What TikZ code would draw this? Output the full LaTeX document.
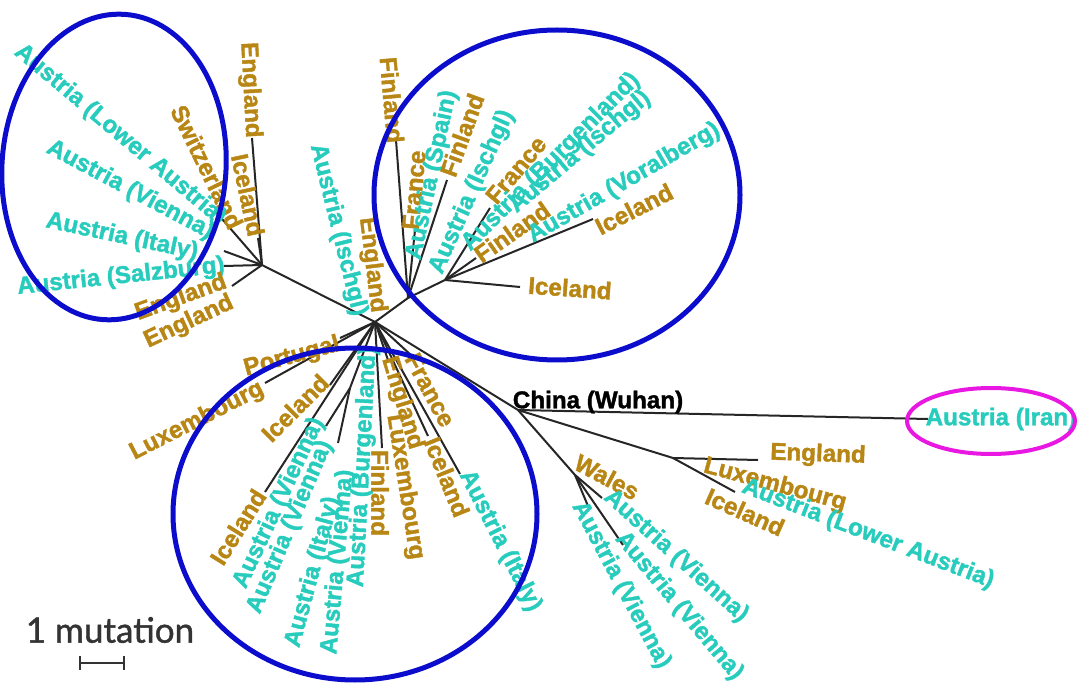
\documentclass[tikz,border=0pt]{standalone}
\usepackage{fontspec}
\setmainfont{Liberation Sans}[FakeBold=1.6]
\newfontfamily\barfont{Lato}[FakeBold=1.2]
\usetikzlibrary{calc}
\definecolor{austria}{RGB}{40,204,188}
\definecolor{other}{RGB}{184,134,20}
\definecolor{ringblue}{RGB}{12,12,204}
\definecolor{ringpink}{RGB}{232,24,226}

\begin{document}
\begin{tikzpicture}[x=.5pt,y=-.5pt,
 br/.style={draw=black!85,line width=1pt},
 lab/.style={font=\fontsize{12.1}{14}\bfseries,inner sep=0pt},
 aut/.style={lab,text=austria},oth/.style={lab,text=other},
 ring/.style={draw=ringblue,line width=2.5pt}]
\useasboundingbox (0,0) rectangle (1077,684);
% inner nodes
\coordinate (c) at (375,322); \coordinate (l) at (262,265); \coordinate (s) at (408,298);
\coordinate (r) at (445,280); \coordinate (w) at (518,410); \coordinate (e) at (673,458);
\coordinate (v) at (575,475); \coordinate (b) at (350,388);
% tips, upper left
\coordinate (tl1) at (252,138); \coordinate (tl2) at (258,238); \coordinate (tl3) at (216,212);
\coordinate (tl4) at (224,251); \coordinate (tl5) at (224,266); \coordinate (tl6) at (232,286);
% tips, upper right
\coordinate (tr1) at (396,140); \coordinate (tr2) at (415,230); \coordinate (tr3) at (447,180);
\coordinate (tr4) at (490,208); \coordinate (tr5) at (476,258); \coordinate (tr6) at (593,219);
\coordinate (tr7) at (520,287);
% tips, lower
\coordinate (tb1) at (340,338); \coordinate (tb2) at (265,383); \coordinate (tb3) at (330,385);
\coordinate (tb4) at (265,492); \coordinate (tb5) at (382,448); \coordinate (tb6) at (388,360);
\coordinate (tb7) at (412,356); \coordinate (tb8) at (428,436); \coordinate (tb9) at (460,474);
\coordinate (tb10) at (338,443); \coordinate (tb11) at (326,426);
% tips, right
\coordinate (tw1) at (928,419); \coordinate (tw2) at (758,460); \coordinate (tw3) at (735,492);
\coordinate (tw4) at (602,498); \coordinate (tw5) at (623,545); \coordinate (tw6) at (588,506);
% branches
\draw[br] (c)--(l); \draw[br] (c)--(s)--(r); \draw[br] (c)--(w)--(e); \draw[br] (w)--(v); \draw[br] (c)--(b);
\draw[br] (l)--(tl1); \draw[br] (l)--(tl2); \draw[br] (l)--(tl3); \draw[br] (l)--(tl4); \draw[br] (l)--(tl5); \draw[br] (l)--(tl6);
\draw[br] (s)--(tr1); \draw[br] (s)--(tr2); \draw[br] (s)--(tr3);
\draw[br] (r)--(tr4); \draw[br] (r)--(tr5); \draw[br] (r)--(tr6); \draw[br] (r)--(tr7);
\draw[br] (c)--(tb1); \draw[br] (c)--(tb2); \draw[br] (c)--(tb3); \draw[br] (c)--(tb4); \draw[br] (c)--(tb5);
\draw[br] (c)--(tb6); \draw[br] (c)--(tb7); \draw[br] (c)--(tb8); \draw[br] (c)--(tb9);
\draw[br] (b)--(tb10); \draw[br] (b)--(tb11);
\draw[br] (w)--(tw1); \draw[br] (e)--(tw2); \draw[br] (e)--(tw3);
\draw[br] (v)--(tw4); \draw[br] (v)--(tw5); \draw[br] (v)--(tw6);
% labels, upper left
\node[oth,rotate=-87] (n1) at (250,90) {England};
\node[oth,rotate=-78] (n2) at (248,195) {Iceland};
\node[oth,rotate=-64] (n3) at (207,167) {Switzerland};
\node[aut,rotate=-40] (n4) at (120,135) {Austria (Lower Austria)};
\node[aut,rotate=-28] (n5) at (130,190) {Austria (Vienna)};
\node[aut,rotate=-12] (n6) at (122,237) {Austria (Italy)};
\node[aut,rotate=6] (n7) at (121,277) {Austria (Salzburg)};
\node[oth,rotate=20] (n8) at (181,298) {England};
\node[oth,rotate=25] (n9) at (189,322) {England};
% labels, middle
\node[aut,rotate=-76] (n10) at (338,230) {Austria (Ischgl)};
\node[oth,rotate=-83] (n11) at (372,265) {England};
% labels, upper right
\node[oth,rotate=-85] (n12) at (392,100) {Finland};
\node[oth,rotate=85] (n13) at (414,190) {France};
\node[aut,rotate=78] (n14) at (432,175) {Austria (Spain)};
\node[oth,rotate=70] (n15) at (462,135) {Finland};
\node[aut,rotate=66] (n16) at (472,192) {Austria (Ischgl)};
\node[oth,rotate=50] (n17) at (516,170) {France};
\node[aut,rotate=45] (n18) at (551,162) {Austria (Burgenland)};
\node[aut,rotate=40] (n19) at (580,152) {Austria (Ischgl)};
\node[oth,rotate=35] (n20) at (512,232) {Finland};
\node[aut,rotate=30] (n21) at (624,183) {Austria (Voralberg)};
\node[oth,rotate=27] (n22) at (634,209) {Iceland};
\node[oth,rotate=-4] (n23) at (570,288) {Iceland};
% labels, lower
\node[oth,rotate=15] (n24) at (292,357) {Portugal};
\node[oth,rotate=27] (n25) at (197,421) {Luxembourg};
\node[oth,rotate=45] (n26) at (295,408) {Iceland};
\node[oth,rotate=58] (n27) at (238,527) {Iceland};
\node[aut,rotate=65] (n28) at (279,503) {Austria (Vienna)};
\node[aut,rotate=67] (n29) at (290,527) {Austria (Vienna)};
\node[aut,rotate=75] (n30) at (313,572) {Austria (Italy)};
\node[aut,rotate=85] (n31) at (338,562) {Austria (Vienna)};
\node[aut,rotate=87] (n32) at (363,467) {Austria (Burgenland)};
\node[oth,rotate=-90] (n33) at (380,493) {Finland};
\node[oth,rotate=-73] (n34) at (402,403) {England};
\node[oth,rotate=-81] (n35) at (405,487) {Luxembourg};
\node[oth,rotate=-62] (n36) at (430,390) {France};
\node[oth,rotate=-68] (n37) at (447,477) {Iceland};
\node[aut,rotate=-63] (n38) at (500,541) {Austria (Italy)};
% labels, right
\node[lab] (n39) at (598,402) {China (Wuhan)};
\node[aut] (n40) at (1001,419) {Austria (Iran)};
\node[oth,rotate=-2] (n41) at (818,455) {England};
\node[oth,rotate=-15] (n42) at (775,485) {Luxembourg};
\node[oth,rotate=-24] (n43) at (745,512) {Iceland};
\node[aut,rotate=-21] (n44) at (868,534) {Austria (Lower Austria)};
\node[oth,rotate=-28] (n45) at (607,477) {Wales};
\node[aut,rotate=-42] (n46) at (676,556) {Austria (Vienna)};
\node[aut,rotate=-50] (n47) at (679,606) {Austria (Vienna)};
\node[aut,rotate=-62] (n48) at (621,585) {Austria (Vienna)};
% clusters
\draw[ring,rotate around={-4:(114,167)}] (114,167) ellipse [x radius=112,y radius=153];
\draw[ring] (557,195) ellipse [x radius=183,y radius=165];
\draw[ring] (355,514) ellipse [x radius=182,y radius=166];
\draw[draw=ringpink,line width=2pt] (991,421) ellipse [x radius=84,y radius=33];
% scale
\node[font=\barfont\fontsize{17.5}{20}\selectfont,text=black!80,inner sep=0pt] (unit) at (110,630) {1 mutation};
\coordinate (sb1) at (80,663); \coordinate (sb2) at (124,663);
\draw[line width=1pt,black!80] ($(sb1)+(0,-7)$)--($(sb1)+(0,7)$) (sb1)--(sb2) ($(sb2)+(0,-7)$)--($(sb2)+(0,7)$);
\end{tikzpicture}
\end{document}
